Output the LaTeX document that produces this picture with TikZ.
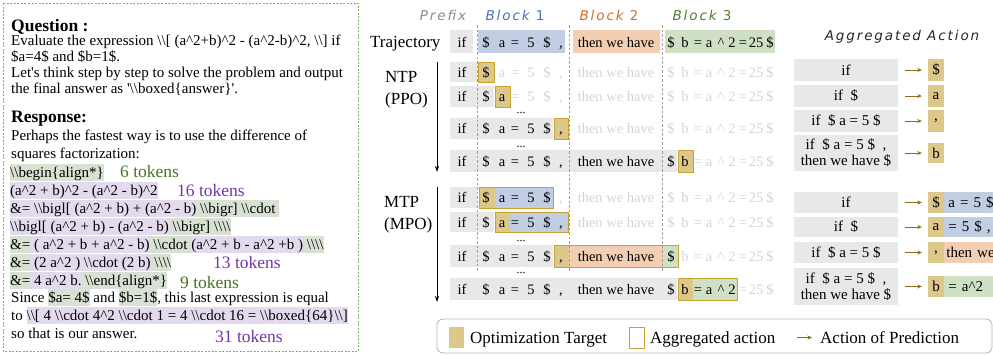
\documentclass[tikz,border=0pt]{standalone}
\usepackage{fontspec}
\setmainfont{Liberation Serif}
\newfontfamily\headfont{DejaVu Sans}[LetterSpace=14]
\usetikzlibrary{arrows.meta}

\definecolor{hlgreen}{HTML}{D8E2D2}
\definecolor{hlpurple}{HTML}{E4DAEE}
\definecolor{tokgreen}{HTML}{46731F}
\definecolor{tokpurple}{HTML}{7436A6}
\definecolor{boxgreen}{HTML}{7DB65A}
\definecolor{rowgray}{HTML}{E8E8E8}
\definecolor{blk1}{HTML}{C1CDE3}
\definecolor{blk2}{HTML}{F3CEB2}
\definecolor{blk3}{HTML}{CFE0C4}
\definecolor{target}{HTML}{DCC88B}
\definecolor{gold}{HTML}{C9A231}
\definecolor{faded}{HTML}{D4D4D4}
\definecolor{predcol}{HTML}{8C6D14}
\definecolor{prefixcol}{HTML}{8A8A8A}
\definecolor{blk1txt}{HTML}{4A70B8}
\definecolor{blk2txt}{HTML}{D46E22}
\definecolor{blk3txt}{HTML}{4F7B33}

\newcommand{\bs}{\textbackslash}
\newcommand{\crt}{\textasciicircum}
\newcommand{\hlstrut}{\rule[-3.5pt]{0pt}{16.5pt}}
\newcommand{\hlg}[1]{{\setlength{\fboxsep}{0pt}\colorbox{hlgreen}{\hlstrut#1}}}
\newcommand{\hlp}[1]{{\setlength{\fboxsep}{0pt}\colorbox{hlpurple}{\hlstrut#1}}}
\newcommand{\blk}[1]{{\itshape Block\ \upshape #1}}

% one row of tokens: name, baseline, last token drawn dark
\newcommand{\tokenrow}[3]{%
  \foreach \tx/\tw [count=\ti] in {462/if,486/\$,502/a,515/=,531/5,547/\$,561/{,},616/then we have,671/\$,685/b,698/=,709/a,721/\crt,732/2,743/=,756/25,770/\$}{
    \ifnum\ti>#3\relax\def\tc{faded}\else\def\tc{black}\fi
    \node[tok,text=\tc] (#1-\ti) at (\tx,#2) {\tw};
  }}

\tikzset{
  qbox/.style={draw=boxgreen, line width=0.8pt, dash pattern=on 2pt off 1.5pt},
  qtxt/.style={anchor=base west, inner sep=0pt, font=\fontsize{15}{16}\selectfont},
  qhead/.style={anchor=base west, inner sep=0pt, font=\fontsize{17.5}{20}\selectfont\bfseries},
  tokcount/.style={anchor=base west, inner sep=0pt, font=\fontsize{17.5}{20}\selectfont},
  head/.style={inner sep=0pt, font=\fontsize{13.5}{16}\headfont},
  lbl/.style={anchor=base west, inner sep=0pt, font=\fontsize{17}{20}\selectfont},
  tok/.style={anchor=base, inner sep=0pt, font=\fontsize{14.5}{18}\selectfont},
  dots/.style={anchor=base, inner sep=0pt, font=\fontsize{12}{14}\selectfont},
  sepline/.style={gray!75, line width=0.6pt, dash pattern=on 2.5pt off 2pt},
  tgt/.style={fill=target, draw=gold, line width=0.9pt},
  aggline/.style={draw=gold, line width=0.9pt},
  flow/.style={-{Stealth[length=6pt,width=4pt,inset=2pt]}, line width=0.8pt},
  aggbox/.style={fill=rowgray, minimum width=104pt, inner sep=0pt, align=center, font=\fontsize{15}{16}\selectfont},
  tbox/.style={fill=target, minimum width=16pt, inner sep=0pt, font=\fontsize{15}{16}\selectfont},
  ext/.style={anchor=west, inner xsep=4pt, inner ysep=0pt, text width=60pt, align=left, font=\fontsize{15}{16}\selectfont},
  predarrow/.style={-{Stealth[length=4.5pt,width=4pt]}, predcol, line width=1pt},
  legbox/.style={draw=gray!60, line width=0.8pt, rounded corners=6pt},
  legtxt/.style={anchor=base west, inner sep=0pt, font=\fontsize{17}{20}\selectfont},
  lsq/.style={minimum width=15pt, minimum height=21pt, inner sep=0pt}
}

\begin{document}
\begin{tikzpicture}[x=1pt,y=-1pt]
  \useasboundingbox (0,0) rectangle (993,354);

  % question and response
  \draw[qbox] (3,3) rectangle (358,351);
  \node[qhead] (qh) at (11,31) {Question :};
  \node[qtxt] (q1) at (11,45) {Evaluate the expression \bs\bs[ (a\crt 2+b)\crt 2 - (a\crt 2-b)\crt 2, \bs\bs] if};
  \node[qtxt] (q2) at (11,61) {\$a=4\$ and \$b=1\$.};
  \node[qtxt] (q3) at (11,77) {Let\textquotesingle s think step by step to solve the problem and output};
  \node[qtxt] (q4) at (11,93) {the final answer as \textquotesingle\bs\bs boxed\{answer\}\textquotesingle.};
  \node[qhead] (rh) at (11,122) {Response:};
  \node[qtxt] (r1) at (11,140) {Perhaps the fastest way is to use the difference of};
  \node[qtxt] (r2) at (11,158) {squares factorization:};
  \node[qtxt] (r3) at (10,177) {\hlg{\bs\bs begin\{align*\}}};
  \node[qtxt] (r4) at (10,195) {\hlp{(a\crt 2 + b)\crt 2 - (a\crt 2 - b)\crt 2}};
  \node[qtxt] (r5) at (10,213) {\hlp{\&= \bs\bs bigl[ (a\crt 2 + b) + (a\crt 2 - b)}\hlg{ \bs\bs bigr] \bs\bs cdot }};
  \node[qtxt] (r6) at (10,231) {\hlp{\bs\bs bigl[ (a\crt 2 + b) - (a\crt 2 - b)}\hlg{ \bs\bs bigr] \bs\bs\bs\bs}};
  \node[qtxt] (r7) at (10,249) {\hlg{\&=}\hlp{ ( a\crt 2 + b + a\crt 2 - b)}\hlg{ \bs\bs cdot }\hlp{(a\crt 2 + b - a\crt 2 +b )}\hlg{ \bs\bs\bs\bs}};
  \node[qtxt] (r8) at (10,267) {\hlg{\&=}\hlp{ (2 a\crt 2 ) \bs\bs cdot (2 b)}\hlg{ \bs\bs\bs\bs}};
  \node[qtxt] (r9) at (10,285) {\hlg{\&=}\hlp{ 4 a\crt 2 b.}\hlg{ \bs\bs end\{align*\}}};
  \node[qtxt] (r10) at (11,302) {Since \hlg{\$a= 4\$} and \hlg{\$b=1\$}, this last expression is equal};
  \node[qtxt] (r11) at (11,320) {to \hlp{\bs\bs[ 4 \bs\bs cdot 4\crt 2 \bs\bs cdot 1 = 4 \bs\bs cdot 16 = \bs\bs boxed\{64\}\bs\bs]}};
  \node[qtxt] (r12) at (11,338) {so that is our answer.};
  \node[tokcount, text=tokgreen] (tk6) at (120,177) {6 tokens};
  \node[tokcount, text=tokpurple] (tk16) at (177,196) {16 tokens};
  \node[tokcount, text=tokpurple] (tk13) at (213,268) {13 tokens};
  \node[tokcount, text=tokgreen] (tk9) at (180,288) {9 tokens};
  \node[tokcount, text=tokpurple] (tk31) at (215,342) {31 tokens};

  % headers
  \node[head, text=prefixcol] (hpre) at (443,15) {\itshape Prefix};
  \node[head, text=blk1txt] (hb1) at (515,15) {\blk{1}};
  \node[head, text=blk2txt] (hb2) at (609,15) {\blk{2}};
  \node[head, text=blk3txt] (hb3) at (702,15) {\blk{3}};
  \node[head, text=black!85] (hagg) at (902,37) {\itshape Aggregated Action};

  % backgrounds
  \fill[rowgray] (450,30) rectangle (473,53);
  \fill[blk1] (478,30) rectangle (565,53);
  \fill[blk2] (573,30) rectangle (660,53);
  \fill[blk3] (665,30) rectangle (775,53);

  \fill[rowgray] (450,62) rectangle (477,82);
  \fill[rowgray] (450,86) rectangle (494,107);
  \fill[rowgray] (450,118) rectangle (553,139);
  \fill[rowgray] (450,150) rectangle (677,172);

  \fill[rowgray] (450,187) rectangle (477,208);
  \fill[target] (479,187) rectangle (495,208);
  \fill[blk1] (495,187) rectangle (553,208);
  \fill[rowgray] (450,212) rectangle (494,232);
  \fill[target] (495,212) rectangle (510,232);
  \fill[blk1] (510,212) rectangle (568,232);
  \fill[rowgray] (450,245) rectangle (553,267);
  \fill[target] (554,245) rectangle (569,267);
  \fill[blk2] (569,245) rectangle (663,267);
  \fill[blk3] (663,245) rectangle (678,267);
  \fill[rowgray] (450,278) rectangle (677,300);
  \fill[target] (678,278) rectangle (693,300);
  \fill[blk3] (693,278) rectangle (737,300);

  % block borders
  \draw[sepline] (477,25) -- (477,272);
  \draw[sepline] (569,25) -- (569,272);
  \draw[sepline] (662,25) -- (662,272);

  % targets
  \filldraw[tgt] (478,62) rectangle (494,82);
  \filldraw[tgt] (495,86) rectangle (510,107);
  \filldraw[tgt] (554,118) rectangle (568,139);
  \filldraw[tgt] (678,150) rectangle (693,172);
  \draw[aggline] (479,187) rectangle (553,208);
  \draw[aggline] (495,212) rectangle (568,232);
  \draw[aggline] (554,245) rectangle (678,267);
  \draw[aggline] (678,278) rectangle (737,300);

  % tokens
  \node[lbl] (traj) at (370,47) {Trajectory};
  \tokenrow{tr}{47}{17}
  \tokenrow{na}{77}{2}
  \tokenrow{nb}{101.5}{3}
  \tokenrow{nc}{133.5}{7}
  \tokenrow{nd}{166}{10}
  \tokenrow{ma}{202.5}{6}
  \tokenrow{mb}{227}{7}
  \tokenrow{mc}{261}{9}
  \tokenrow{md}{294}{14}
  \node[dots] (d1) at (521,113) {...};
  \node[dots] (d2) at (521,147) {...};
  \node[dots] (d3) at (521,241) {...};
  \node[dots] (d4) at (521,273) {...};

  % methods
  \node[lbl] (ntp1) at (385,82) {NTP};
  \node[lbl] (ntp2) at (385,104) {(PPO)};
  \node[lbl] (mtp1) at (384,207) {MTP};
  \node[lbl] (mtp2) at (384,229) {(MPO)};
  \coordinate (ntpA) at (437,62);
  \coordinate (ntpB) at (437,172);
  \coordinate (mtpA) at (437,187);
  \coordinate (mtpB) at (437,302);
  \draw[flow] (ntpA) -- (ntpB);
  \draw[flow] (mtpA) -- (mtpB);

  % aggregated actions, NTP
  \node[aggbox, minimum height=22pt] (an1) at (846,70) {if};
  \node[aggbox, minimum height=22pt] (an2) at (846,96) {if\ \ \$};
  \node[aggbox, minimum height=22pt] (an3) at (846,121) {if\ \ \$ a = 5 \$};
  \node[aggbox, minimum height=36pt] (an4) at (846,153) {if\ \ \$ a = 5 \$\ \ ,\\then we have \$};
  \node[tbox, minimum height=22pt] (at1) at (936,70) {\$};
  \node[tbox, minimum height=22pt] (at2) at (936,96) {a};
  \node[tbox, minimum height=22pt] (at3) at (936,121) {,};
  \node[tbox, minimum height=20pt] (at4) at (936,153) {b};
  \draw[predarrow, shorten <=7pt, shorten >=6pt] (an1) -- (at1);
  \draw[predarrow, shorten <=7pt, shorten >=6pt] (an2) -- (at2);
  \draw[predarrow, shorten <=7pt, shorten >=6pt] (an3) -- (at3);
  \draw[predarrow, shorten <=7pt, shorten >=6pt] (an4) -- (at4);

  % aggregated actions, MTP
  \node[aggbox, minimum height=21pt] (bn1) at (846,202.5) {if};
  \node[aggbox, minimum height=20pt] (bn2) at (846,227) {if\ \ \$};
  \node[aggbox, minimum height=21pt] (bn3) at (846,252.5) {if\ \ \$ a = 5 \$};
  \node[aggbox, minimum height=37pt] (bn4) at (846,286.5) {if\ \ \$ a = 5 \$\ \ ,\\then we have \$};
  \node[tbox, minimum height=21pt] (bt1) at (936,202.5) {\$};
  \node[tbox, minimum height=20pt] (bt2) at (936,227) {a};
  \node[tbox, minimum height=21pt] (bt3) at (936,252.5) {,};
  \node[tbox, minimum height=21pt] (bt4) at (936,286.5) {b};
  \node[ext, fill=blk1, minimum height=21pt] (be1) at (bt1.east) {a = 5 \$};
  \node[ext, fill=blk1, minimum height=20pt] (be2) at (bt2.east) {= 5 \$ ,};
  \node[ext, fill=blk2, minimum height=21pt, inner xsep=2pt] (be3) at (bt3.east) {then we};
  \node[ext, fill=blk3, minimum height=21pt] (be4) at (bt4.east) {= a\crt 2};
  \draw[predarrow, shorten <=7pt, shorten >=6pt] (bn1) -- (bt1);
  \draw[predarrow, shorten <=7pt, shorten >=6pt] (bn2) -- (bt2);
  \draw[predarrow, shorten <=7pt, shorten >=6pt] (bn3) -- (bt3);
  \draw[predarrow, shorten <=7pt, shorten >=6pt] (bn4) -- (bt4);

  % legend
  \draw[legbox] (437,319) rectangle (992,353);
  \node[lsq, fill=target] (lgT) at (456.5,337.5) {};
  \node[legtxt] (lgTt) at (470,343.5) {Optimization Target};
  \node[lsq, draw=gold, fill=white, line width=0.9pt] (lgA) at (636.5,337.5) {};
  \node[legtxt] (lgAt) at (650,343.5) {Aggregated action};
  \coordinate (lgP1) at (797,337.5);
  \coordinate (lgP2) at (812,337.5);
  \draw[predarrow] (lgP1) -- (lgP2);
  \node[legtxt] (lgPt) at (820,343.5) {Action of Prediction};
\end{tikzpicture}
\end{document}
